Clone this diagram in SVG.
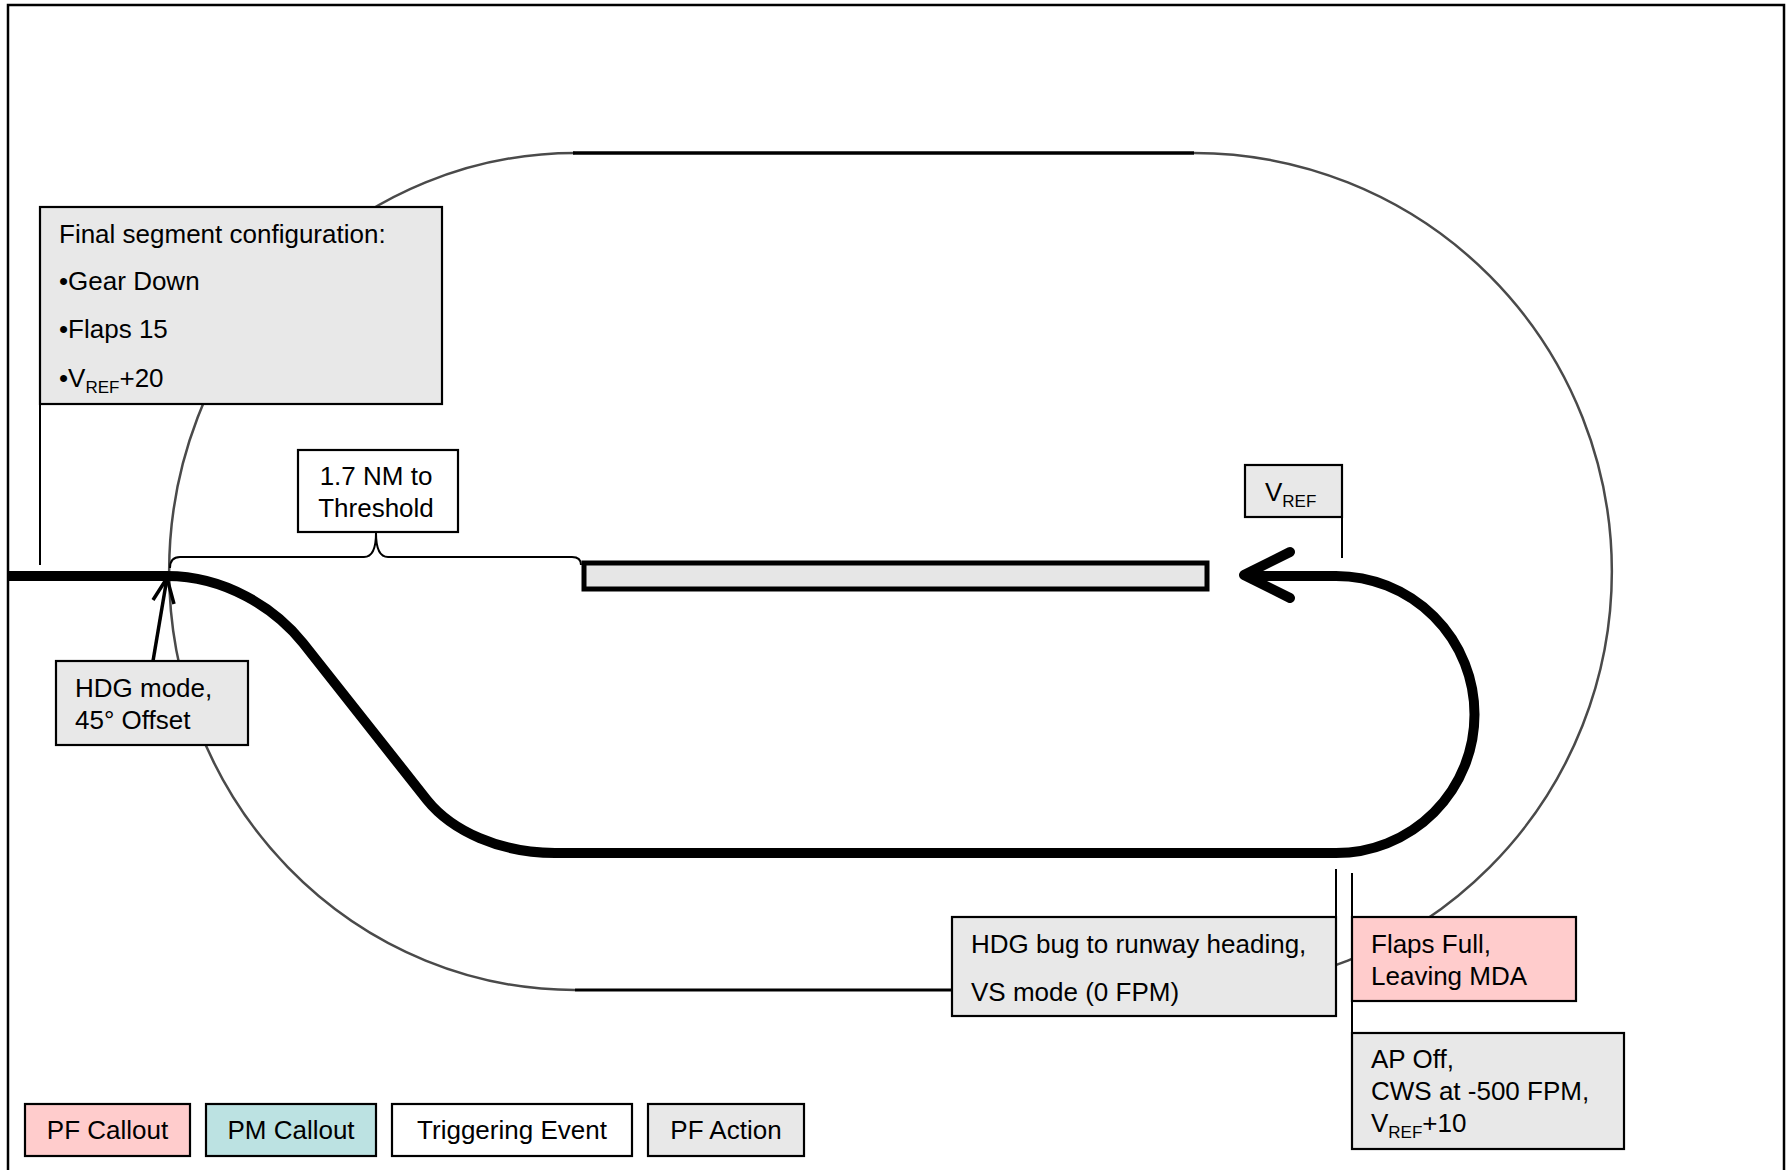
<svg xmlns="http://www.w3.org/2000/svg" width="1786" height="1170" viewBox="0 0 1786 1170">
<style>
text{font-family:"Liberation Sans",Arial,sans-serif;font-size:26px;fill:#000}
.sub{font-size:17px}
.box{stroke:#000;stroke-width:2.2}
.gray{fill:#e8e8e8}
.pink{fill:#ffcccc}
.teal{fill:#bce2e2}
.white{fill:#fff}
.thin{fill:none;stroke:#000;stroke-width:2}
.track{fill:none;stroke:#000;stroke-width:10;stroke-linecap:round;stroke-linejoin:round}
.pattern{fill:none;stroke:#4a4a4a;stroke-width:2.5}
</style>
<rect x="0" y="0" width="1786" height="1170" fill="#fff"/>
<rect x="8" y="5" width="1776" height="1175" fill="none" stroke="#000" stroke-width="2.5"/>

<g id="pattern">
<path class="pattern" d="M575,153 A406,418.5 0 0 0 575,990"/>
<path class="pattern" d="M1194,153 A418,418.5 0 0 1 1194,990"/>
<line x1="573" y1="153" x2="1194" y2="153" stroke="#000" stroke-width="3.5"/>
<line x1="575" y1="990" x2="1194" y2="990" stroke="#000" stroke-width="3"/>
</g>

<g id="runway">
<rect x="584" y="563" width="623" height="26" fill="#e6e6e6" stroke="#000" stroke-width="5"/>
</g>

<g id="connectors">
<path class="track" style="stroke-linecap:butt" d="M8,576 H167 C225,576 275,608 303,643 L427,800 C452,831 500,853 555,853 H1336 A138.5,138.5 0 0 0 1336,576 H1250"/>
<polyline class="track" points="1290,552 1244,575 1290,598"/>
<line x1="153" y1="661" x2="167" y2="578" stroke="#000" stroke-width="3.5"/>
<polyline points="153,600 167,578 174,604" fill="none" stroke="#000" stroke-width="3.5" stroke-linejoin="miter"/>
<path class="thin" d="M170,568 Q170,557 180,557 H364 Q376,557 376,533 Q376,557 388,557 H572 Q581,557 581,565"/>
<line x1="40" y1="404" x2="40" y2="565" stroke="#000" stroke-width="2"/>
<line x1="1342" y1="517" x2="1342" y2="558" stroke="#000" stroke-width="2"/>
<line x1="1336" y1="869" x2="1336" y2="917" stroke="#000" stroke-width="2"/>
<line x1="1352" y1="873" x2="1352" y2="1092" stroke="#000" stroke-width="2"/>
</g>

<g id="final-config">
<rect class="box gray" x="40" y="207" width="402" height="197"/>
<text x="59" y="243">Final segment configuration:</text>
<text x="59" y="290">•Gear Down</text>
<text x="59" y="338">•Flaps 15</text>
<text x="59" y="387">•V<tspan class="sub" dy="6">REF</tspan><tspan dy="-6">+20</tspan></text>
</g>

<g id="threshold">
<rect class="box white" x="298" y="450" width="160" height="82"/>
<text x="376" y="485" text-anchor="middle">1.7 NM to</text>
<text x="376" y="517" text-anchor="middle">Threshold</text>
</g>

<g id="hdg-mode">
<rect class="box gray" x="56" y="661" width="192" height="84"/>
<text x="75" y="697">HDG mode,</text>
<text x="75" y="729">45° Offset</text>
</g>

<g id="vref">
<rect class="box gray" x="1245" y="465" width="97" height="52"/>
<text x="1265" y="501">V<tspan class="sub" dy="6">REF</tspan></text>
</g>

<g id="hdg-bug">
<rect class="box gray" x="952" y="917" width="384" height="99"/>
<text x="971" y="953">HDG bug to runway heading,</text>
<text x="971" y="1001">VS mode (0 FPM)</text>
</g>

<g id="flaps-full">
<rect class="box pink" x="1352" y="917" width="224" height="84"/>
<text x="1371" y="953">Flaps Full,</text>
<text x="1371" y="985">Leaving MDA</text>
</g>

<g id="ap-off">
<rect class="box gray" x="1352" y="1033" width="272" height="116"/>
<text x="1371" y="1068">AP Off,</text>
<text x="1371" y="1100">CWS at -500 FPM,</text>
<text x="1371" y="1132">V<tspan class="sub" dy="6">REF</tspan><tspan dy="-6">+10</tspan></text>
</g>

<g id="legend">
<g id="legend-pf-callout">
<rect class="box pink" x="25" y="1104" width="165" height="52"/>
<text x="107.5" y="1139" text-anchor="middle">PF Callout</text>
</g>
<g id="legend-pm-callout">
<rect class="box teal" x="206" y="1104" width="170" height="52"/>
<text x="291" y="1139" text-anchor="middle">PM Callout</text>
</g>
<g id="legend-trigger">
<rect class="box white" x="392" y="1104" width="240" height="52"/>
<text x="512" y="1139" text-anchor="middle">Triggering Event</text>
</g>
<g id="legend-pf-action">
<rect class="box gray" x="648" y="1104" width="156" height="52"/>
<text x="726" y="1139" text-anchor="middle">PF Action</text>
</g>
</g>
</svg>
